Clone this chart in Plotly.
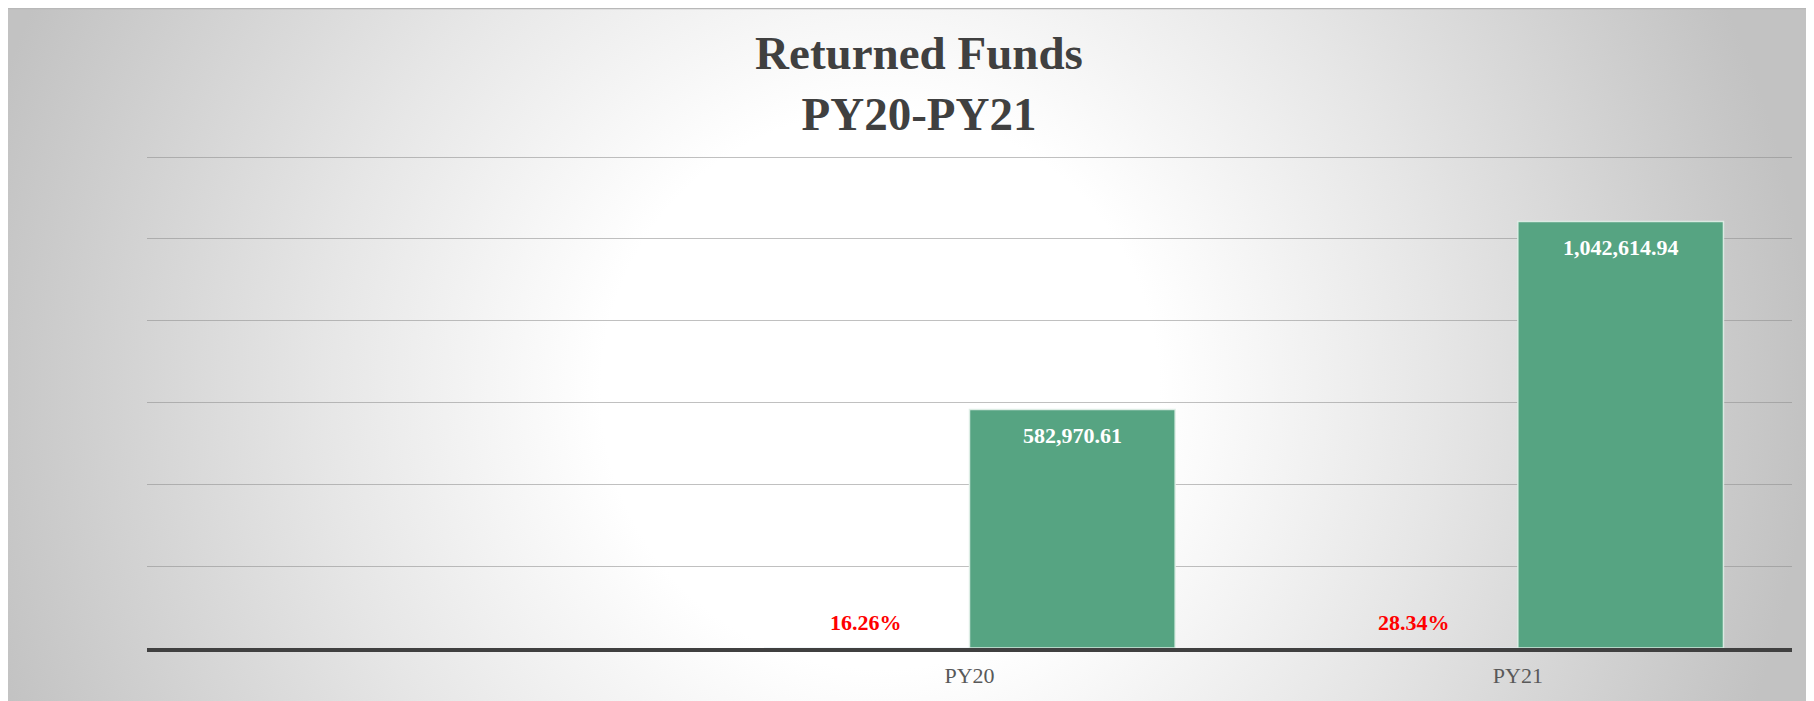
import base64
import plotly.graph_objects as go

# ---- data ----
categories = ["PY20", "PY21"]
returned_share = [0.1626, 0.2834]          # shown as percentages
returned_amount = [582970.61, 1042614.94]  # returned funds
y_ticks = [0, 200000, 400000, 600000, 800000, 1000000, 1200000]

# figure sits inside the page's 8px body margin
W, H = 1806, 693
L, R, T, B = 139, 22, 144, 53
PW, PH = W - L - R, H - T - B
BAR_OFFSET = 103  # px from category centre to each bar centre
Y_TOP = 1200000 * 496 / 491  # a little headroom so the top gridline shows

FONT = "Liberation Serif, Times New Roman, serif"

svg = f'''<svg xmlns="http://www.w3.org/2000/svg" width="{W}" height="{H}" viewBox="0 0 {W} {H}">
<defs>
<radialGradient id="g" gradientUnits="userSpaceOnUse" cx="872" cy="382" r="930">
<stop offset="0" stop-color="#ffffff"/>
<stop offset="0.3" stop-color="#ffffff"/>
<stop offset="0.6" stop-color="#e6e6e6"/>
<stop offset="1" stop-color="#c2c2c2"/>
</radialGradient>
</defs>
<rect x="0" y="0" width="{W}" height="{H}" fill="url(#g)"/>
<line x1="0" y1="0.5" x2="{W}" y2="0.5" stroke="#b8b8b8" stroke-width="1.5"/>
</svg>'''
svg_uri = "data:image/svg+xml;base64," + base64.b64encode(svg.encode()).decode()

fig = go.Figure()

fig.add_trace(go.Bar(
    x=categories, y=returned_share, name="Share",
    marker=dict(color="rgba(0,0,0,0)"), hoverinfo="skip",
))
fig.add_trace(go.Bar(
    x=categories, y=returned_amount, name="Returned Funds",
    marker=dict(color="#56a482", line=dict(color="rgba(225,240,232,0.9)", width=1.5)),
))

annotations = []
for cat, share, amt in zip(categories, returned_share, returned_amount):
    annotations.append(dict(
        x=cat, y=0, xref="x", yref="y", xshift=-BAR_OFFSET - 1, yshift=26,
        yanchor="middle", xanchor="center", showarrow=False,
        text=f"{share:.2%}",
        font=dict(family=FONT, size=22, color="#ff0000", weight="bold"),
    ))
    annotations.append(dict(
        x=cat, y=amt, xref="x", yref="y", xshift=BAR_OFFSET, yshift=-26,
        yanchor="middle", xanchor="center", showarrow=False,
        text=f"{amt:,.2f}",
        font=dict(family=FONT, size=22, color="#ffffff", weight="bold"),
    ))

fig.update_layout(
    width=W, height=H,
    margin=dict(l=L, r=R, t=T, b=B, autoexpand=False),
    paper_bgcolor="#e0e0e0",
    plot_bgcolor="rgba(0,0,0,0)",
    showlegend=False,
    barmode="group", bargap=0.25, bargroupgap=0,
    title=dict(
        text="Returned Funds<br>PY20-PY21",
        x=911 / W, xanchor="center", xref="container",
        y=1 - 61 / H, yanchor="middle", yref="container",
        font=dict(family=FONT, size=47, color="#404040", weight="bold"),
    ),
    annotations=annotations,
    images=[dict(
        source=svg_uri, xref="paper", yref="paper",
        x=-L / PW, y=(H - B) / PH, sizex=W / PW, sizey=H / PH,
        xanchor="left", yanchor="top", sizing="stretch", layer="below",
    )],
)

fig.update_xaxes(
    type="category", range=[-1.5, 1.5],
    showline=True, linecolor="#404040", linewidth=3.5,
    showgrid=False, ticks="", ticklabelstandoff=5,
    tickfont=dict(family=FONT, size=22, color="#595959"),
    automargin=False,
)
fig.update_yaxes(
    range=[0, Y_TOP], tickvals=y_ticks, showticklabels=False,
    showgrid=True, gridcolor="rgba(140,140,140,0.55)", gridwidth=1.3,
    zeroline=False, automargin=False,
)

fig.write_html("out.html")
